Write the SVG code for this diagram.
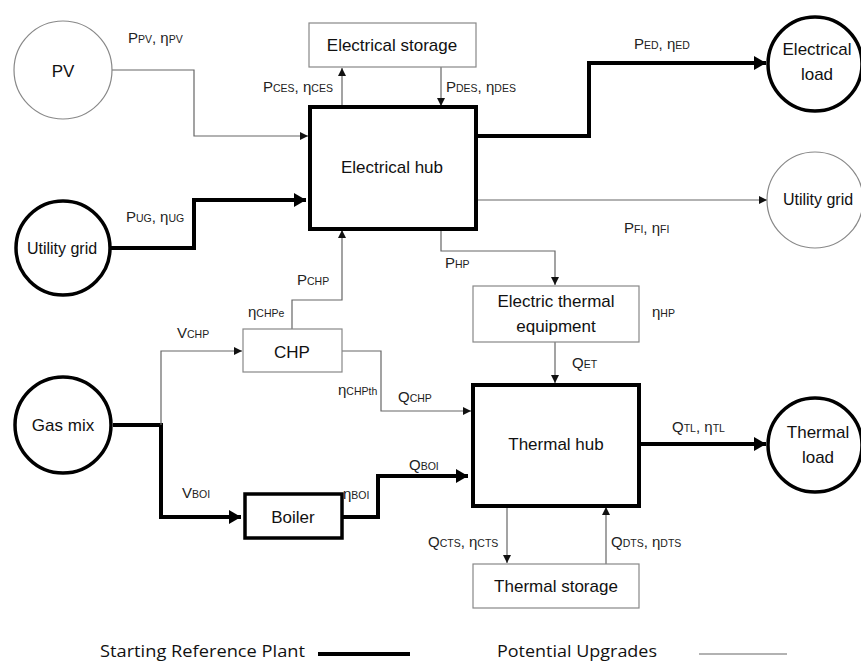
<svg xmlns="http://www.w3.org/2000/svg" width="861" height="663" viewBox="0 0 861 663">
<style>
text{font-family:"Liberation Sans",Arial,sans-serif;fill:#111}
.n{font-size:17px;text-anchor:middle}
.l{font-size:15px;fill:#222}
.s{font-size:10.5px}
.thin{fill:#fff;stroke:#888;stroke-width:1.2}
.thick{fill:#fff;stroke:#000;stroke-width:4}
.tc{fill:#fff;stroke:#000;stroke-width:3.5}
.ct{fill:none;stroke:#666;stroke-width:1.2}
.cT{fill:none;stroke:#000;stroke-width:4}
.leg{font-family:"Open Sans","Noto Sans",sans-serif;font-size:15.5px;fill:#111}
</style>
<defs>
<marker id="a" markerUnits="userSpaceOnUse" markerWidth="10" markerHeight="10" refX="8" refY="4" orient="auto"><path d="M0,0 L8,4 L0,8 z" fill="#111"/></marker>
<marker id="A" markerUnits="userSpaceOnUse" markerWidth="16" markerHeight="16" refX="12" refY="7" orient="auto"><path d="M0,0 L12,7 L0,14 z" fill="#000"/></marker>
</defs>

<g id="connectors">
<polyline class="ct" points="111,70 194,70 194,136 308,136" marker-end="url(#a)"/>
<polyline class="cT" points="111,248 194,248 194,200 306,200" marker-end="url(#A)"/>
<line class="ct" x1="342" y1="107" x2="342" y2="68" marker-end="url(#a)"/>
<line class="ct" x1="441" y1="67" x2="441" y2="106" marker-end="url(#a)"/>
<polyline class="cT" points="476,136 589,136 589,63 766,63" marker-end="url(#A)"/>
<line class="ct" x1="476" y1="200" x2="767" y2="200" marker-end="url(#a)"/>
<polyline class="ct" points="441,229 441,251 555,251 555,285" marker-end="url(#a)"/>
<line class="ct" x1="555" y1="342" x2="555" y2="383" marker-end="url(#a)"/>
<polyline class="cT" points="639,444 766,444" marker-end="url(#A)"/>
<line class="ct" x1="507" y1="506" x2="507" y2="563" marker-end="url(#a)"/>
<line class="ct" x1="606" y1="564" x2="606" y2="507" marker-end="url(#a)"/>
<polyline class="cT" points="113,425 161,425 161,517 241,517" marker-end="url(#A)"/>
<polyline class="ct" points="161,425 161,351 242,351" marker-end="url(#a)"/>
<polyline class="ct" points="292,329 292,300 342,300 342,230" marker-end="url(#a)"/>
<polyline class="ct" points="342,351 381,351 381,411 471,411" marker-end="url(#a)"/>
<polyline class="cT" points="342,517 378,517 378,476 468,476" marker-end="url(#A)"/>
</g>

<g id="pv"><circle class="thin" cx="63" cy="70" r="49"/><text class="n" x="63" y="77">PV</text></g>
<g id="utility-grid-in"><circle class="tc" cx="63" cy="248" r="47"/><text class="n" x="62" y="254" style="font-size:16px">Utility grid</text></g>
<g id="gas-mix"><circle class="tc" cx="63" cy="425" r="48"/><text class="n" x="63" y="431">Gas mix</text></g>
<g id="electrical-storage"><rect class="thin" x="309" y="23" width="167" height="44"/><text class="n" x="392" y="51">Electrical storage</text></g>
<g id="electrical-hub"><rect class="thick" x="310" y="107" width="166" height="122"/><text class="n" x="392" y="173">Electrical hub</text></g>
<g id="electrical-load"><circle class="tc" cx="815" cy="64" r="47"/><text class="n" x="817" y="55">Electrical</text><text class="n" x="817" y="80">load</text></g>
<g id="utility-grid-out"><circle class="thin" cx="815" cy="200" r="48"/><text class="n" x="818" y="205" style="font-size:16px">Utility grid</text></g>
<g id="electric-thermal-equipment"><rect class="thin" x="473" y="286" width="166" height="56"/><text class="n" x="556" y="307">Electric thermal</text><text class="n" x="556" y="332">equipment</text></g>
<g id="chp"><rect class="thin" x="243" y="329" width="99" height="43"/><text class="n" x="292" y="358">CHP</text></g>
<g id="boiler"><rect class="thick" x="245" y="494" width="97" height="44" style="stroke-width:3.5"/><text class="n" x="293" y="523">Boiler</text></g>
<g id="thermal-hub"><rect class="thick" x="473" y="385" width="166" height="121"/><text class="n" x="556" y="450">Thermal hub</text></g>
<g id="thermal-load"><circle class="tc" cx="815" cy="445" r="47"/><text class="n" x="818" y="438">Thermal</text><text class="n" x="818" y="463">load</text></g>
<g id="thermal-storage"><rect class="thin" x="473" y="564" width="166" height="44"/><text class="n" x="556" y="592">Thermal storage</text></g>

<g id="labels">
<text class="l" x="128" y="43">P<tspan class="s">PV</tspan>, η<tspan class="s">PV</tspan></text>
<text class="l" x="126" y="222">P<tspan class="s">UG</tspan>, η<tspan class="s">UG</tspan></text>
<text class="l" x="263" y="92">P<tspan class="s">CES</tspan>, η<tspan class="s">CES</tspan></text>
<text class="l" x="446" y="92">P<tspan class="s">DES</tspan>, η<tspan class="s">DES</tspan></text>
<text class="l" x="634" y="49">P<tspan class="s">ED</tspan>, η<tspan class="s">ED</tspan></text>
<text class="l" x="624" y="233">P<tspan class="s">FI</tspan>, η<tspan class="s">FI</tspan></text>
<text class="l" x="445" y="268">P<tspan class="s">HP</tspan></text>
<text class="l" x="297" y="285">P<tspan class="s">CHP</tspan></text>
<text class="l" x="248" y="317">η<tspan class="s">CHPe</tspan></text>
<text class="l" x="652" y="317">η<tspan class="s">HP</tspan></text>
<text class="l" x="177" y="338">V<tspan class="s">CHP</tspan></text>
<text class="l" x="572" y="368">Q<tspan class="s">ET</tspan></text>
<text class="l" x="338" y="395">η<tspan class="s">CHPth</tspan></text>
<text class="l" x="398" y="402">Q<tspan class="s">CHP</tspan></text>
<text class="l" x="672" y="432">Q<tspan class="s">TL</tspan>, η<tspan class="s">TL</tspan></text>
<text class="l" x="409" y="470">Q<tspan class="s">BOI</tspan></text>
<text class="l" x="182" y="498">V<tspan class="s">BOI</tspan></text>
<text class="l" x="343" y="499">η<tspan class="s">BOI</tspan></text>
<text class="l" x="428" y="547">Q<tspan class="s">CTS</tspan>, η<tspan class="s">CTS</tspan></text>
<text class="l" x="611" y="547">Q<tspan class="s">DTS</tspan>, η<tspan class="s">DTS</tspan></text>
</g>

<g id="legend">
<text class="leg" x="100" y="657" textLength="205" lengthAdjust="spacingAndGlyphs">Starting Reference Plant</text>
<line x1="318" y1="654" x2="410" y2="654" stroke="#000" stroke-width="4"/>
<text class="leg" x="497" y="657" textLength="160" lengthAdjust="spacingAndGlyphs">Potential Upgrades</text>
<line x1="699" y1="654" x2="787" y2="654" stroke="#666" stroke-width="1.2"/>
</g>
</svg>
